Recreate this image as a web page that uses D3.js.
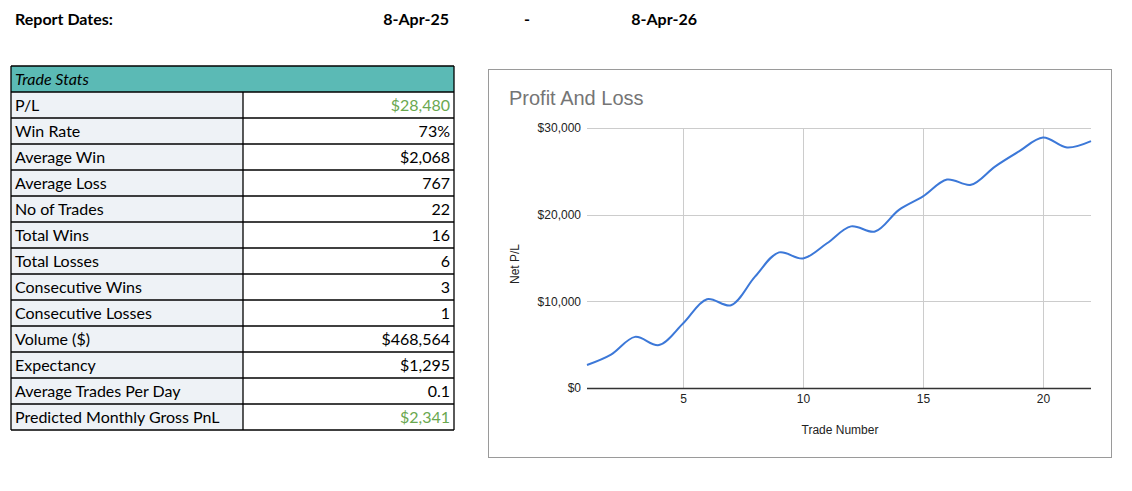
<!DOCTYPE html>
<html><head><meta charset="utf-8">
<script src="https://cdn.jsdelivr.net/npm/d3@7"></script>
<style>
html,body{margin:0;padding:0;background:#fff;}
svg{display:block;}
</style></head>
<body>
<svg id="c" width="1132" height="491"></svg>
<script>
// ---- data ----
const reportDates = ["8-Apr-25", "-", "8-Apr-26"];
const statLabels = ["P/L","Win Rate","Average Win","Average Loss","No of Trades","Total Wins","Total Losses","Consecutive Wins","Consecutive Losses","Volume ($)","Expectancy","Average Trades Per Day","Predicted Monthly Gross PnL"];
const statValues = ["$28,480","73%","$2,068","767","22","16","6","3","1","$468,564","$1,295","0.1","$2,341"];
const statGreen = [true,false,false,false,false,false,false,false,false,false,false,false,true];
const tradeNumbers = [1,2,3,4,5,6,7,8,9,10,11,12,13,14,15,16,17,18,19,20,21,22];
const netPL = [2650,3850,5900,4950,7450,10250,9550,12850,15650,14950,16700,18650,18050,20550,22100,24050,23450,25550,27300,28900,27750,28480];
const yTicks = [0,10000,20000,30000];
const xTicks = [5,10,15,20];

const svg = d3.select("#c");
const tableFont = "Lato, 'Noto Sans', sans-serif";

// ---- header ----
svg.append("text").attr("x",15).attr("y",25).attr("font-family",tableFont).attr("font-weight","bold")
  .attr("font-size",16).attr("fill","#000").text("Report Dates:");
const hdrX = [449, 527, 697];
const hdrAnchor = ["end","middle","end"];
svg.selectAll("text.rd").data(reportDates).join("text").attr("class","rd")
  .attr("x",(d,i)=>hdrX[i]).attr("y",25).attr("text-anchor",(d,i)=>hdrAnchor[i])
  .attr("font-family",tableFont).attr("font-weight","bold").attr("font-size",16).attr("fill","#000").text(d=>d);

// ---- table ----
const tX0 = 11, tX1 = 243, tX2 = 454, tTop = 66, rowH = 26;
const tg = svg.append("g");
tg.append("rect").attr("x",tX0).attr("y",tTop).attr("width",tX2-tX0).attr("height",rowH).attr("fill","#5bbab5");
tg.append("text").attr("x",tX0+4).attr("y",tTop+19).attr("font-family",tableFont).attr("font-style","italic")
  .attr("font-size",16).attr("fill","#000").text("Trade Stats");
const rowY = d3.scaleBand().domain(d3.range(statLabels.length)).range([tTop+rowH, tTop+rowH*(statLabels.length+1)]);
const rows = tg.selectAll("g.row").data(statLabels).join("g").attr("class","row")
  .attr("transform",(d,i)=>`translate(0,${rowY(i)})`);
rows.append("rect").attr("x",tX0).attr("width",tX1-tX0).attr("height",rowH).attr("fill","#eef2f6");
rows.append("rect").attr("x",tX1).attr("width",tX2-tX1).attr("height",rowH).attr("fill","#fff");
rows.append("text").attr("x",tX0+4).attr("y",19).attr("font-family",tableFont).attr("font-size",16).attr("fill","#000").text(d=>d);
rows.append("text").attr("x",tX2-4).attr("y",19).attr("text-anchor","end").attr("font-family",tableFont).attr("font-size",16)
  .attr("fill",(d,i)=>statGreen[i]?"#6aa84f":"#000").text((d,i)=>statValues[i]);
// grid lines
const tBottom = tTop + rowH*(statLabels.length+1);
d3.range(statLabels.length+2).forEach(i=>{
  tg.append("line").attr("x1",tX0).attr("x2",tX2).attr("y1",tTop+i*rowH).attr("y2",tTop+i*rowH).attr("stroke","#000").attr("stroke-width",1.3);
});
tg.append("line").attr("x1",tX0).attr("x2",tX0).attr("y1",tTop).attr("y2",tBottom).attr("stroke","#000").attr("stroke-width",1.3);
tg.append("line").attr("x1",tX2).attr("x2",tX2).attr("y1",tTop).attr("y2",tBottom).attr("stroke","#000").attr("stroke-width",1.3);
tg.append("line").attr("x1",tX1).attr("x2",tX1).attr("y1",tTop+rowH).attr("y2",tBottom).attr("stroke","#000").attr("stroke-width",1.3);

// ---- chart ----
const cf = "Arial, 'Liberation Sans', sans-serif";
svg.append("rect").attr("x",488.5).attr("y",69.5).attr("width",623).attr("height",388).attr("fill","#fff").attr("stroke","#9a9a9a").attr("stroke-width",1);
svg.append("text").attr("x",509).attr("y",105).attr("font-family",cf).attr("font-size",20).attr("fill","#757575").text("Profit And Loss");

const x = d3.scaleLinear().domain([1,22]).range([587,1091]);
const y = d3.scaleLinear().domain([0,30000]).range([388,128]);
const g = svg.append("g");
g.selectAll("line.hg").data(yTicks.filter(d=>d>0)).join("line").attr("class","hg")
  .attr("x1",587).attr("x2",1091).attr("y1",d=>Math.round(y(d))+0.5).attr("y2",d=>Math.round(y(d))+0.5).attr("stroke","#cccccc");
g.selectAll("line.vg").data(xTicks).join("line").attr("class","vg")
  .attr("x1",d=>Math.round(x(d))+0.5).attr("x2",d=>Math.round(x(d))+0.5).attr("y1",128).attr("y2",388).attr("stroke","#cccccc");

const yAxis = d3.axisLeft(y).tickValues(yTicks).tickSize(0).tickPadding(6).tickFormat(d=>"$"+d3.format(",")(d));
const ya = g.append("g").attr("transform","translate(587,0)").call(yAxis);
ya.select(".domain").remove();
ya.selectAll("text").attr("font-family",cf).attr("font-size",12).attr("fill","#222");

const xAxis = d3.axisBottom(x).tickValues(xTicks).tickSize(0).tickPadding(6).tickFormat(d3.format("d"));
const xa = g.append("g").attr("transform","translate(0,388)").call(xAxis);
xa.select(".domain").remove();
xa.selectAll("text").attr("font-family",cf).attr("font-size",12).attr("fill","#222");
g.append("line").attr("x1",587).attr("x2",1091).attr("y1",388.5).attr("y2",388.5).attr("stroke","#333").attr("stroke-width",1.3);

const line = d3.line().x((d,i)=>x(tradeNumbers[i])).y(d=>y(d)).curve(d3.curveCatmullRom.alpha(0.5));
g.append("path").datum(netPL).attr("d",line).attr("fill","none").attr("stroke","#3c78d8").attr("stroke-width",2);

svg.append("text").attr("x",840).attr("y",434).attr("text-anchor","middle").attr("font-family",cf).attr("font-size",12).attr("fill","#222").text("Trade Number");
svg.append("text").attr("transform","translate(519,264) rotate(-90)").attr("text-anchor","middle").attr("font-family",cf).attr("font-size",12).attr("fill","#222").text("Net P/L");
</script>
</body></html>
